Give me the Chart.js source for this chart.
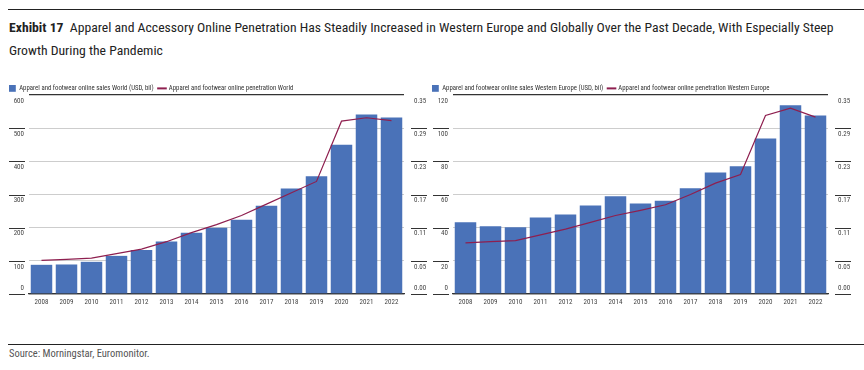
<!DOCTYPE html>
<html>
<head>
<meta charset="utf-8">
<script src="https://cdn.jsdelivr.net/npm/chart.js@4"></script>
<style>
  body { margin: 0; background: #fff; width: 864px; height: 370px; position: relative; overflow: hidden;
         font-family: "Roboto Condensed", "DejaVu Sans Condensed", sans-serif; color: #222; }
  .rule { position: absolute; left: 8px; right: 0; height: 0; border-top: 1.5px solid #222; }
  #title { position: absolute; left: 9px; top: 16px; font-size: 13.7px; line-height: 23px; width: 860px; white-space: nowrap; }
  #source { position: absolute; left: 9px; top: 347px; font-size: 10.5px; color: #555; }
  .box { position: absolute; top: 80px; height: 240px; }
</style>
</head>
<body>
<div class="rule" style="top:9px"></div>
<div id="title"><b>Exhibit 17</b>&nbsp; Apparel and Accessory Online Penetration Has Steadily Increased in Western Europe and Globally Over the Past Decade, With Especially Steep<br>Growth During the Pandemic</div>
<div class="box" style="left:0;width:432px"><canvas id="world"></canvas></div>
<div class="box" style="left:423px;width:441px"><canvas id="europe"></canvas></div>
<div class="rule" style="top:344px"></div>
<div id="source">Source: Morningstar, Euromonitor.</div>
<script>
const years = ['2008', '2009', '2010', '2011', '2012', '2013', '2014', '2015',
  '2016', '2017', '2018', '2019', '2020', '2021', '2022'];

// online sales, USD bil
const worldSales = [88, 89, 97, 115, 133, 158, 185, 200, 224, 266, 318, 355, 450, 541, 532];
const europeSales = [43.2, 40.8, 40.2, 46.2, 48.0, 53.4, 58.9, 54.5, 56.3, 63.7, 73.2, 77.0, 93.7, 113.8, 107.7];

// online penetration
const worldPen = [0.059, 0.061, 0.063, 0.071, 0.079, 0.092, 0.108, 0.122, 0.138, 0.158, 0.178, 0.198, 0.304, 0.310, 0.305];
const europePen = [0.090, 0.092, 0.094, 0.104, 0.114, 0.126, 0.138, 0.147, 0.157, 0.175, 0.195, 0.210, 0.314, 0.327, 0.311];

// right axis labels as printed
const penTicks = ['0.00', '0.05', '0.11', '0.17', '0.23', '0.29', '0.35'];
const penMax = 0.35;

const FONT = '"Roboto Condensed", "DejaVu Sans Condensed", sans-serif';
const BLUE = '#4a72b8';
const RED = '#8e1f4f';

// short dark tick marks, drawn apart from the grid
const tickMarks = {
  id: 'tickMarks',
  afterDraw(chart) {
    const ctx = chart.ctx;
    const area = chart.chartArea;
    ctx.save();
    ctx.strokeStyle = '#333';
    ctx.lineWidth = 1;
    ['y', 'y2'].forEach(id => {
      const s = chart.scales[id];
      s.ticks.forEach((t, i) => {
        if (i === s.ticks.length - 1) return;
        const py = Math.round(s.getPixelForTick(i)) + 0.5;
        const x1 = id === 'y' ? area.left - 20 : area.right + 7;
        ctx.beginPath();
        ctx.moveTo(x1, py);
        ctx.lineTo(x1 + 16, py);
        ctx.stroke();
      });
    });
    ctx.restore();
  }
};

// keep legend height fixed so the plot tops line up
const legendHeight = {
  id: 'legendHeight',
  beforeLayout(chart) {
    const lg = chart.legend;
    if (lg && !lg._fixed) {
      const fit = lg.fit;
      lg.fit = function () { fit.call(this); this.height = 15; };
      lg._fixed = true;
    }
  }
};

function noPad(s) {
  s.paddingTop = 0;
  s.paddingBottom = 0;
}

function makeChart(id, sales, pen, salesLabel, penLabel, yMax, yStep, leftW, rightW) {
  new Chart(document.getElementById(id), {
    type: 'bar',
    data: {
      labels: years,
      datasets: [
        {
          label: salesLabel,
          data: sales,
          backgroundColor: BLUE,
          yAxisID: 'y',
          order: 1,
          categoryPercentage: 1,
          barPercentage: 0.86
        },
        {
          type: 'line',
          label: penLabel,
          data: pen,
          borderColor: RED,
          backgroundColor: RED,
          borderWidth: 1.2,
          pointRadius: 0,
          tension: 0,
          yAxisID: 'y2',
          order: 0
        }
      ]
    },
    options: {
      responsive: true,
      maintainAspectRatio: false,
      animation: false,
      layout: { padding: { left: 4, top: 0, right: 0, bottom: 0 } },
      plugins: {
        tooltip: { enabled: false },
        legend: {
          position: 'top',
          align: 'start',
          labels: {
            font: { family: FONT, size: 6.8 },
            color: '#333',
            padding: 5,
            usePointStyle: true,
            sort: (a, b) => a.datasetIndex - b.datasetIndex,
            generateLabels(chart) {
              const items = Chart.defaults.plugins.legend.labels.generateLabels(chart);
              items.forEach(it => {
                const bar = it.datasetIndex === 0;
                it.pointStyle = bar ? 'rect' : 'line';
                it.lineWidth = bar ? 0 : 2;
                it.strokeStyle = bar ? BLUE : RED;
              });
              return items;
            }
          }
        }
      },
      scales: {
        x: {
          grid: { display: false, drawTicks: false },
          border: { color: '#333', width: 1.3 },
          ticks: { font: { family: FONT, size: 7 }, color: '#444', padding: 4, maxRotation: 0 },
          afterFit(s) { s.height = 26; }
        },
        y: {
          position: 'left',
          min: 0,
          max: yMax,
          ticks: {
            stepSize: yStep,
            font: { family: FONT, size: 7, lineHeight: 1.7 },
            color: '#444',
            padding: 5,
            callback: (v, i) => i === 0 ? [String(v), ''] : ['', String(v)]
          },
          grid: {
            drawTicks: false,
            color: c => (c.tick.value === 0 || c.tick.value === yMax) ? '#333' : '#cdcdcd',
            lineWidth: c => (c.tick.value === 0 || c.tick.value === yMax) ? 1.3 : 1
          },
          border: { display: false },
          afterFit(s) { s.width = leftW; noPad(s); }
        },
        y2: {
          position: 'right',
          min: 0,
          max: penMax,
          afterBuildTicks(s) {
            s.ticks = penTicks.map((l, i) => ({ value: penMax * i / (penTicks.length - 1) }));
          },
          ticks: {
            font: { family: FONT, size: 7, lineHeight: 1.7 },
            color: '#444',
            padding: 10,
            callback: (v, i) => i === 0 ? [penTicks[i], ''] : ['', penTicks[i]]
          },
          grid: { display: false, drawTicks: false },
          border: { display: false },
          afterFit(s) { s.width = rightW; noPad(s); }
        }
      }
    },
    plugins: [tickMarks, legendHeight]
  });
}

makeChart('world', worldSales, worldPen,
  'Apparel and footwear online sales World (USD, bil)',
  'Apparel and footwear online penetration World', 600, 100, 25, 28);
makeChart('europe', europeSales, europePen,
  'Apparel and footwear online sales Western Europe (USD, bil)',
  'Apparel and footwear online penetration Western Europe', 120, 20, 26, 36);
</script>
</body>
</html>
